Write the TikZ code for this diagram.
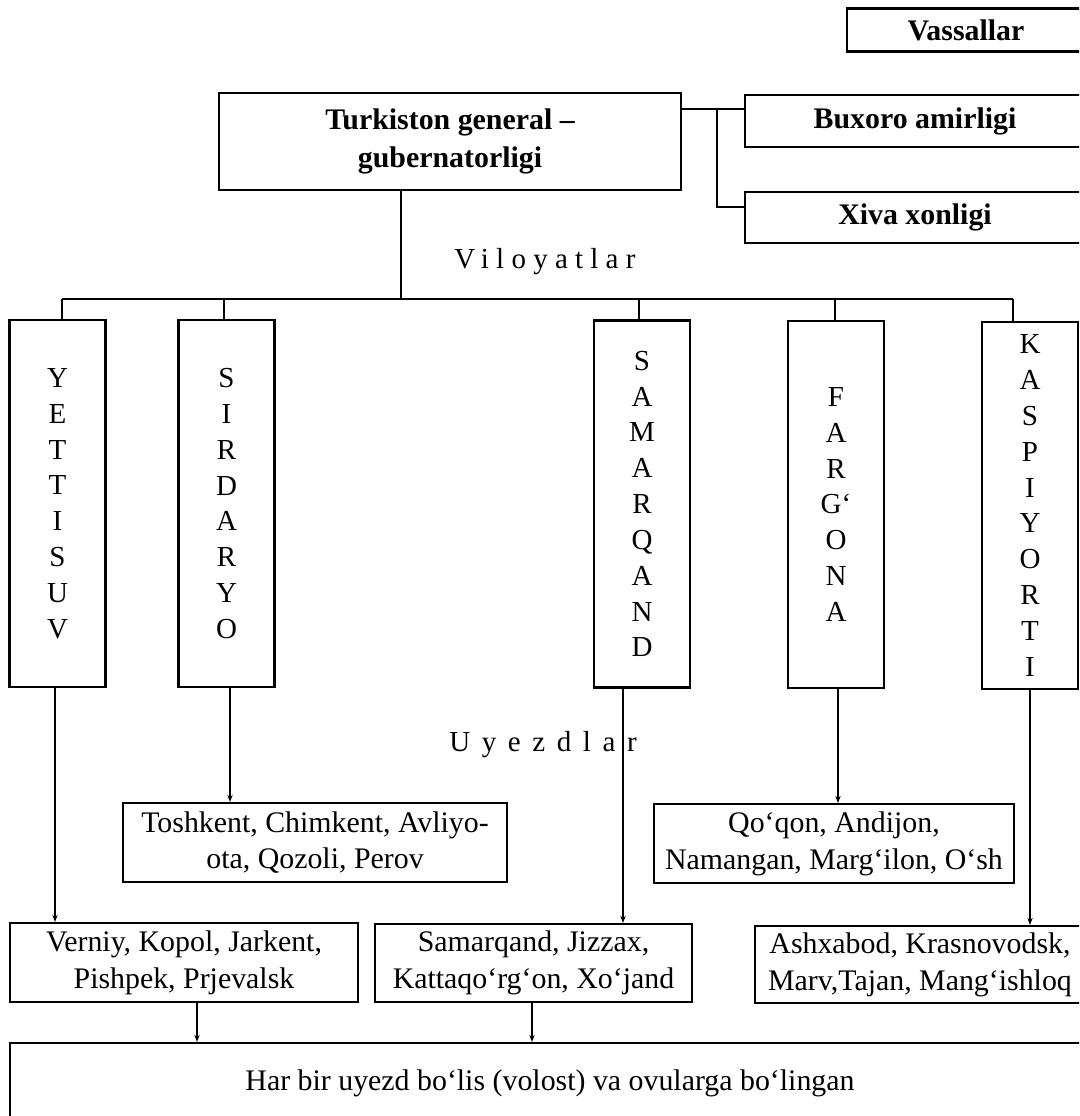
\documentclass[tikz,border=0pt]{standalone}
\usepackage{fontspec}
\setmainfont{Liberation Serif}
\newfontfamily\spaced[LetterSpace=25]{Liberation Serif}
\newfontfamily\spacedwide[LetterSpace=40]{Liberation Serif}
\usepackage{tikz}
\usetikzlibrary{arrows.meta}

\begin{document}
\begin{tikzpicture}[x=0.02cm,y=-0.02cm,
        box/.style={draw,line width=1.2pt,align=center,inner sep=0pt,font=\fontsize{17}{21}\selectfont},
        bbox/.style={box,font=\fontsize{17}{21.5}\selectfont\bfseries},
        vbox/.style={box,minimum width=1.92cm,minimum height=7.34cm,font=\fontsize{16.5}{20.4}\selectfont},
        link/.style={line width=0.6pt},
        arr/.style={link,-{Stealth[length=4pt,width=3pt]}}]
        \useasboundingbox (0,0) rectangle (1079,1116);
        \clip (0,0) rectangle (1079,1116);

        % top level
        \node[bbox,minimum width=4.76cm,minimum height=0.86cm] (vass) at (966,30) {Vassallar};
        \node[bbox,minimum width=9.24cm,minimum height=1.94cm] (turk) at (450,141.5) {Turkiston general --\\gubernatorligi};
        \node[bbox,minimum width=6.8cm,minimum height=1.04cm] (bux) at (915,121) {Buxoro amirligi};
        \node[bbox,minimum width=6.8cm,minimum height=1.02cm] (xiva) at (915,217.5) {Xiva xonligi};

        \coordinate (j1) at (717,109);
        \coordinate (j2) at (717,207);
        \draw[link] (turk.east |- j1) -- (bux.west |- j1);
        \draw[link] (j1) -- (j2) -- (xiva.west |- j2);

        \node[font=\fontsize{16.5}{20}\selectfont\spaced] (vil) at (545,262) {Viloyatlar};

        % viloyatlar
        \node[vbox] (yet) at (57.5,503.5) {Y\\E\\T\\T\\I\\S\\U\\V};
        \node[vbox] (sir) at (226.5,503.5) {S\\I\\R\\D\\A\\R\\Y\\O};
        \node[vbox] (sam) at (642,504) {S\\A\\M\\A\\R\\Q\\A\\N\\D};
        \node[vbox] (far) at (836,504.5) {F\\A\\R\\G‘\\O\\N\\A};
        \node[vbox] (kas) at (1030,505.5) {K\\A\\S\\P\\I\\Y\\O\\R\\T\\I};

        \coordinate (b0) at (401,299);
        \coordinate (b1) at (62,299);
        \coordinate (b2) at (224,299);
        \coordinate (b3) at (639,299);
        \coordinate (b4) at (835,299);
        \coordinate (b5) at (1013,299);
        \draw[link] (turk.south -| b0) -- (b0);
        \draw[link] (b1) -- (b5);
        \draw[link] (b1) -- (yet.north -| b1);
        \draw[link] (b2) -- (sir.north -| b2);
        \draw[link] (b3) -- (sam.north -| b3);
        \draw[link] (b4) -- (far.north -| b4);
        \draw[link] (b5) -- (kas.north -| b5);

        \node[font=\fontsize{16.5}{20}\selectfont\spacedwide] (uye) at (543,745) {Uyezdlar};

        % uyezdlar
        \node[box,minimum width=7.68cm,minimum height=1.58cm] (tosh) at (315,842.5) {Toshkent, Chimkent, Avliyo-\\ota, Qozoli, Perov};
        \node[box,minimum width=7.2cm,minimum height=1.58cm] (qoq) at (834,843.5) {Qo‘qon, Andijon,\\Namangan, Marg‘ilon, O‘sh};
        \node[box,minimum width=6.96cm,minimum height=1.58cm] (vern) at (184,962.5) {Verniy, Kopol, Jarkent,\\Pishpek, Prjevalsk};
        \node[box,minimum width=6.34cm,minimum height=1.56cm] (samu) at (533.5,963) {Samarqand, Jizzax,\\Kattaqo‘rg‘on, Xo‘jand};
        \node[box,minimum width=6.6cm,minimum height=1.54cm] (ashx) at (920,964.5) {Ashxabod, Krasnovodsk,\\Marv,Tajan, Mang‘ishloq};

        \coordinate (u1) at (55,0);
        \coordinate (u2) at (230,0);
        \coordinate (u3) at (623,0);
        \coordinate (u4) at (838,0);
        \coordinate (u5) at (1030,0);
        \draw[arr] (yet.south -| u1) -- (vern.north -| u1);
        \draw[arr] (sir.south -| u2) -- (tosh.north -| u2);
        \draw[arr] (sam.south -| u3) -- (samu.north -| u3);
        \draw[arr] (far.south -| u4) -- (qoq.north -| u4);
        \draw[arr] (kas.south -| u5) -- (ashx.north -| u5);

        % bottom
        \node[box,minimum width=21.6cm,minimum height=1.6cm] (har) at (550,1083) {Har bir uyezd bo‘lis (volost) va ovularga bo‘lingan};

        \coordinate (h1) at (197,0);
        \coordinate (h2) at (532,0);
        \draw[arr] (vern.south -| h1) -- (har.north -| h1);
        \draw[arr] (samu.south -| h2) -- (har.north -| h2);
\end{tikzpicture}
\end{document}
